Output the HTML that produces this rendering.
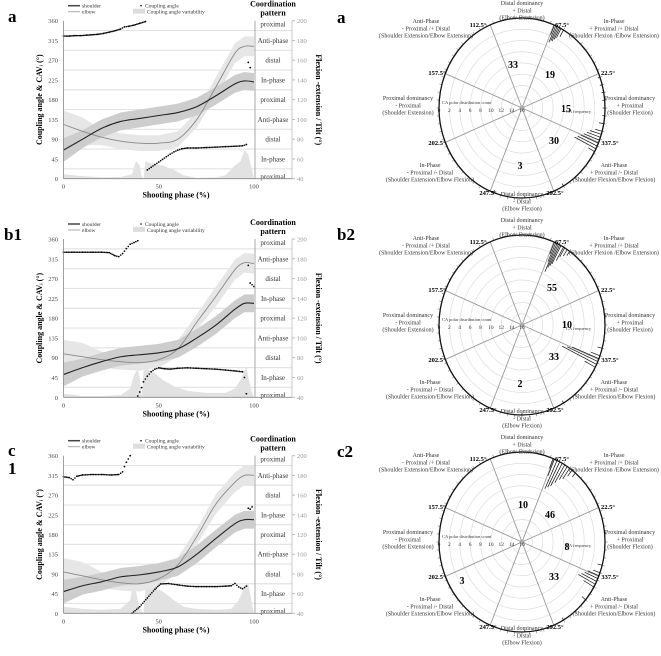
<!DOCTYPE html>
<html><head><meta charset="utf-8">
<style>
html,body{margin:0;padding:0;background:#fff;}
svg{display:block;font-family:"Liberation Serif",serif;}
</style></head>
<body>
<svg id="fig" width="661" height="656" viewBox="0 0 661 656" xmlns="http://www.w3.org/2000/svg"></svg>
<script>
// ---------- DATA ----------
const phase = [0,10,20,30,40,50,60,70,80,90,95,100];
const shoulderA  = [69,80,91,98,101,104,107,113,124,136,139,138];
const elbowA     = [95,88,82,78,76,76,80,100,133,167,174,174];
const shoulderB1 = [63,70,76,81,83,85,89,100,113,129,135,135];
const elbowB1    = [84,81,78,76,75,78,89,116,142,169,176,175];
const shoulderC  = [62,68,72,77,79,82,87,100,116,131,135,135];
const elbowC     = [82,78,74,71,70,75,89,118,151,173,180,180];
const caA  = [[0,325],[3,325],[6,326],[9,326],[12,327],[15,328],[18,329],[21,331],[24,334],[27,337],[30,341],[32,346],[34,347],[37,350],[40,354],[43,358],
  [44,20],[46,26],[48,32],[50,38],[52,44],[54,50],[56,56],[58,61],[60,65],[62,68],[65,70],[70,70],[75,71],[80,72],[85,73],[90,74],[94,75],[96,78],[97,265],[98,253]];
const caB1 = [[0,330],[5,330],[10,330],[15,330],[20,330],[24,329],[27,322],[29,320],[31,327],[33,338],[35,348],[37,352],[39,356],
  [39,3],[40,12],[41,22],[42,35],[44,48],[46,58],[48,64],[50,67],[53,65],[56,64],[60,66],[65,67],[70,66],[75,65],[80,64],[85,62],[90,60],[94,58],[95,45],[96,8],[97,300],[98,260],[100,252]];
const caC  = [[0,312],[3,310],[5,305],[7,313],[10,316],[15,317],[20,317],[25,316],[29,317],[31,323],[32,335],[33,345],[35,360],
  [36,0],[40,15],[44,35],[48,55],[51,67],[55,68],[60,65],[65,62],[70,61],[75,61],[80,61],[85,62],[88,63],[90,68],[92,60],[94,56],[96,62],[97,240],[98,238],[99,243]];
const cavA  = [[0,10],[10,6],[20,3],[30,4],[36,10],[38,40],[40,30],[41,5],[42,0],[43,40],[46,35],[52,30],[58,20],[63,8],[70,2],[80,3],[85,8],[90,30],[93,40],[95,65],[97,55],[99,20],[100,0]];
const cavB1 = [[0,8],[10,3],[20,3],[30,5],[35,20],[37,50],[39,65],[40,45],[41,0],[42,60],[44,65],[48,55],[52,40],[58,25],[65,15],[75,10],[85,10],[90,20],[93,40],[95,60],[96,70],[97,45],[99,10],[100,0]];
const cavC  = [[0,15],[10,10],[20,8],[30,10],[35,30],[36,55],[38,50],[40,10],[42,0],[43,60],[47,60],[52,50],[58,30],[63,15],[70,10],[80,8],[88,10],[92,30],[95,60],[97,70],[99,20],[100,0]];
const leftTicks = [0,45,90,135,180,225,270,315,360];
const rightTicks = [40,60,80,100,120,140,160,180,200];
const xTicks = [0,50,100];
const patterns = ["proximal","In-phase","distal","Anti-phase","proximal","In-phase","distal","Anti-phase","proximal"];
const patternAngles = [5,45,90,135,180,225,270,315,352];
const sectorCountsA  = [[33,-9,-44],[19,28,-34],[15,44,0],[30,32,32],[3,-2,57]];
const sectorCountsB2 = [[55,30,-38],[10,45,-1],[33,32,31],[2,-2,58]];
const sectorCountsC2 = [[10,1,-38],[46,28,-28],[8,45,4],[33,32,34],[3,-60,38]];
const spikesA  = [[60,3],[62,4],[63,5],[64,6],[65,6],[66,7],[67,4],[20,1],[15,1],[10,1],[5,1],[0,1],[355,1],[350,2],[345,3],[343,5],[341,6],[339,7],[337,8],[335,9],[333,10],[331,3],[300,1],[272,1],[250,1]];
const spikesB2 = [[55,2],[57,3],[59,4],[60,6],[62,8],[63,9],[64,10],[65,12],[66,8],[67,5],[345,2],[340,4],[338,12],[336,14],[334,16],[332,5],[300,1],[270,1]];
const spikesC2 = [[50,2],[53,3],[55,5],[57,6],[59,8],[61,10],[63,11],[65,12],[67,7],[68,4],[345,2],[340,3],[338,5],[336,6],[334,7],[332,8],[330,5],[320,2],[300,1],[272,1]];
const ringVals = [0,2,4,6,8,10,12,14,16];
const spokeAngles = [22.5,67.5,112.5,157.5,202.5,247.5,292.5,337.5];

// ---------- HELPERS ----------
const NS="http://www.w3.org/2000/svg";
const svg=document.getElementById('fig');
function mk(tag,attrs,parent){const e=document.createElementNS(NS,tag);for(const k in attrs)e.setAttribute(k,attrs[k]);(parent||svg).appendChild(e);return e;}
function txt(s,x,y,attrs,parent){const e=mk('text',Object.assign({x:x,y:y},attrs||{}),parent);e.textContent=s;return e;}

function lineChart(cfg){
  const g=mk('g',{});
  
  
  const X0=63.5,X1=254,XR=292,yTop=cfg.top,yBot=cfg.bot;
  const xs=p=>X0+(X1-X0)*p/100;
  const yl=v=>yBot-(yBot-yTop)*v/360;
  const yr=v=>yBot-(yBot-yTop)*(v-40)/160;
  cfg.letters.forEach(l=>{const t=txt(l[0],l[1],l[2],{'font-size':17,'font-weight':'bold'},g);});
  const lg=mk('g',{},g);
  const ly=yTop-15;
  mk('line',{x1:68,x2:80,y1:ly,y2:ly,stroke:'#444','stroke-width':1.5},lg);
  txt('shoulder',82,ly+2,{'font-size':5.5,fill:'#333'},lg);
  mk('line',{x1:68,x2:80,y1:ly+6,y2:ly+6,stroke:'#aaa','stroke-width':1},lg);
  txt('elbow',82,ly+8,{'font-size':5.5,fill:'#333'},lg);
  mk('circle',{cx:141,cy:ly,r:0.8,fill:'#000'},lg);
  txt('Coupling angle',145,ly+2,{'font-size':5.5,fill:'#333'},lg);
  mk('rect',{x:133,y:ly+3,width:12,height:5,fill:'#ddd'},lg);
  txt('Coupling angle variability',147,ly+8,{'font-size':5.5,fill:'#333'},lg);
  txt('Coordination',273,ly+1,{'font-size':8,'font-weight':'bold','text-anchor':'middle'},g);
  txt('pattern',273,ly+10,{'font-size':8,'font-weight':'bold','text-anchor':'middle'},g);
  for(let a=22.5;a<360;a+=45){mk('line',{x1:X0,x2:XR,y1:yl(a),y2:yl(a),stroke:'#e3e3e3','stroke-width':1.2},g);}
  const cav=cfg.cav;
  let d='M'+xs(cav[0][0])+','+yl(0);cav.forEach(p=>d+=' L'+xs(p[0])+','+yl(p[1]));d+=' L'+xs(cav[cav.length-1][0])+','+yl(0)+'Z';
  const va=mk('path',{d:d,fill:'#e2e2e2'},g);
  function band(vals,hw,fill,name){let up='',dn=[];vals.forEach((v,i)=>{up+=(i?' L':'M')+xs(phase[i])+','+yr(Math.min(205,v+hw[i]));dn.push(xs(phase[i])+','+yr(v-hw[i]));});
    const p=mk('path',{d:up+' L'+dn.reverse().join(' L')+'Z',fill:fill},g);}
  const hwE=phase.map(p=>p<20?14:p>75?10:8), hwS=phase.map(p=>p<10?12:9);
  band(cfg.elbow,hwE,'#e6e6e6','elbow-band');
  band(cfg.shoulder,hwS,'#cdcdcd','shoulder-band');
  function curve(vals,stroke,w,name){
    const pts=vals.map((v,i)=>[xs(phase[i]),yr(v)]);let s='M'+pts[0];
    for(let i=0;i<pts.length-1;i++){const p0=pts[i-1]||pts[i],p1=pts[i],p2=pts[i+1],p3=pts[i+2]||p2;
      const c1=[p1[0]+(p2[0]-p0[0])/6,p1[1]+(p2[1]-p0[1])/6],c2=[p2[0]-(p3[0]-p1[0])/6,p2[1]-(p3[1]-p1[1])/6];s+=' C'+c1+' '+c2+' '+p2;}
    const p=mk('path',{d:s,fill:'none',stroke:stroke,'stroke-width':w},g);}
  curve(cfg.elbow,'#888',0.9,'elbow-line');
  curve(cfg.shoulder,'#222',1.1,'shoulder-line');
  const ca=cfg.ca;
  for(let i=0;i<ca.length;i++){
    const c=mk('circle',{cx:xs(ca[i][0]),cy:yl(ca[i][1]),r:0.9,fill:'#000'},g);
    
    
    if(i<ca.length-1 && Math.abs(ca[i+1][1]-ca[i][1])<30 && ca[i+1][0]-ca[i][0]<=6){
      const n=Math.round((ca[i+1][0]-ca[i][0])*1.2);
      for(let k=1;k<n;k++){const t=k/n;mk('circle',{cx:xs(ca[i][0]+t*(ca[i+1][0]-ca[i][0])),cy:yl(ca[i][1]+t*(ca[i+1][1]-ca[i][1])),r:0.8,fill:'#000'},g);}
    }
  }
  mk('line',{x1:255,x2:255,y1:yTop,y2:yBot,stroke:'#aaa','stroke-width':1},g);
  patterns.forEach((p,i)=>{const t=txt(p,273,yl(patternAngles[i])+2.5,{'font-size':7,'text-anchor':'middle',fill:'#333'},g);});
  mk('line',{x1:X0,x2:X0,y1:yTop,y2:yBot,stroke:'#888','stroke-width':0.8},g);
  mk('line',{x1:X0,x2:XR,y1:yBot,y2:yBot,stroke:'#888','stroke-width':0.8},g);
  mk('line',{x1:XR,x2:XR,y1:yTop,y2:yBot,stroke:'#bbb','stroke-width':0.8},g);
  leftTicks.forEach(v=>{txt(String(v),58,yl(v)+2.5,{'font-size':6.5,'text-anchor':'end',fill:'#444'},g);});
  rightTicks.forEach(v=>{mk('line',{x1:XR,x2:XR+3,y1:yr(v),y2:yr(v),stroke:'#bbb'},g);txt(String(v),297,yr(v)+2.5,{'font-size':6.5,fill:'#999'},g);});
  xTicks.forEach(v=>{txt(String(v),xs(v),yBot+10,{'font-size':6.5,'text-anchor':'middle',fill:'#444'},g);});
  const xt=txt('Shooting phase (%)',176,yBot+19,{'font-size':8,'font-weight':'bold','text-anchor':'middle'},g);
  const cy=(yTop+yBot)/2;
  const lt=txt('Coupling angle & CAV\u1D62 (\u00B0)',42,cy,{'font-size':8,'font-weight':'bold','text-anchor':'middle',transform:'rotate(-90 42 '+cy+')'},g);
  const rt=txt('Flexion -extension / Tilt (°)',316,cy,{'font-size':8,'font-weight':'bold','text-anchor':'middle',transform:'rotate(90 316 '+cy+')'},g);
}

function polarChart(cfg){
  const g=mk('g',{});
  
  
  const cx=522,cy=cfg.cy,rx=83,ry=90;
  const pt=(ang,f)=>[cx+rx*f*Math.cos(ang*Math.PI/180),cy-ry*f*Math.sin(ang*Math.PI/180)];
  const lt=txt(cfg.letter,337,cy-85,{'font-size':17,'font-weight':'bold'},g);
  ringVals.forEach(v=>{if(v>0&&v<16)mk('ellipse',{cx:cx,cy:cy,rx:rx*v/16,ry:ry*v/16,fill:'none',stroke:'#ddd','stroke-width':0.7},g);});
  spokeAngles.forEach(a=>{const p=pt(a,1);mk('line',{x1:cx,y1:cy,x2:p[0],y2:p[1],stroke:'#999','stroke-width':0.9},g);});
  mk('ellipse',{cx:cx,cy:cy,rx:rx,ry:ry,fill:'none',stroke:'#111','stroke-width':1.3},g);
  mk('circle',{cx:cx,cy:cy,r:2.5,fill:'#aaa'},g);
  for(let a=0;a<360;a+=5){const p1=pt(a,1),p2=pt(a,1.03);mk('line',{x1:p1[0],y1:p1[1],x2:p2[0],y2:p2[1],stroke:'#333','stroke-width':0.4},g);}
  cfg.spikes.forEach(s=>{const p1=pt(s[0],1),p2=pt(s[0],1-s[1]*2.4/rx);
    const l=mk('line',{x1:p1[0],y1:p1[1],x2:p2[0],y2:p2[1],stroke:'#111','stroke-width':0.7},g);
    
    });
  ringVals.forEach(v=>{txt(String(v),cx-rx*(1-v/16),cy+4,{'font-size':5.5,'text-anchor':'middle',fill:'#333'},g);});
  txt('CA polar distribution count',cx-80,cy-4,{'font-size':4.5,fill:'#333'},g);
  txt('CA frequency',cx+44,cy+5,{'font-size':4.5,fill:'#333'},g);
  cfg.counts.forEach(c=>{const t=txt(String(c[0]),cx+c[1],cy+c[2]+4,{'font-size':10,'font-weight':'bold','text-anchor':'middle'},g);});
  const angLabels=[['112.5°',-44,-83],['67.5°',40,-83],['157.5°',-85,-35],['22.5°',86,-35],['202.5°',-85,35],['337.5°',88,35],['247.5°',-34,85],['292.5°',33,85]];
  angLabels.forEach(a=>{txt(a[0],cx+a[1],cy+a[2]+2,{'font-size':6.5,'font-weight':'bold','text-anchor':'middle'},g);});
  const sec=[[0,-103,['Distal dominancy','+ Distal','(Elbow Extension)']],
    [92,-85,['In-Phase','+ Proximal /+ Distal','(Shoulder Flexion /Elbow Extension)']],
    [-96,-85,['Anti-Phase','- Proximal /+ Distal','(Shoulder Extension/Elbow Extension)']],
    [108,-8,['Proximal dominancy','+ Proximal','(Shoulder Flexion)']],
    [-114,-8,['Proximal dominancy','- Proximal','(Shoulder Extension)']],
    [92,59,['Anti-Phase','+ Proximal /- Distal','(Shoulder Flexion/Elbow Flexion)']],
    [-92,59,['In-Phase','- Proximal /- Distal','(Shoulder Extension/Elbow Flexion)']],
    [0,88,['Distal dominancy','- Distal','(Elbow Flexion)']]];
  sec.forEach(s=>{s[2].forEach((l,i)=>{const t=txt(l,cx+s[0],cy+s[1]+i*7.3,{'font-size':6,'text-anchor':'middle',fill:'#333'},g);});});
}

lineChart({name:'chart-a',top:20.7,bot:178.7,letters:[['a',8,22]],shoulder:shoulderA,elbow:elbowA,ca:caA,cav:cavA});
lineChart({name:'chart-b1',top:239,bot:397.3,letters:[['b1',4,240]],shoulder:shoulderB1,elbow:elbowB1,ca:caB1,cav:cavB1});
lineChart({name:'chart-c1',top:455.7,bot:613.3,letters:[['c',8,456],['1',8,474]],shoulder:shoulderC,elbow:elbowC,ca:caC,cav:cavC});
polarChart({name:'polar-a',letter:'a',cy:108,counts:sectorCountsA,spikes:spikesA});
polarChart({name:'polar-b2',letter:'b2',cy:325,counts:sectorCountsB2,spikes:spikesB2});
polarChart({name:'polar-c2',letter:'c2',cy:542,counts:sectorCountsC2,spikes:spikesC2});
</script>
</body></html>
